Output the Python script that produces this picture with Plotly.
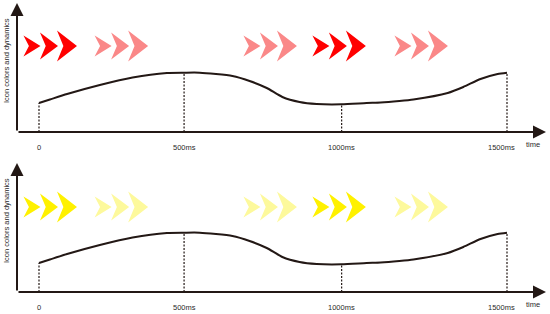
import plotly.graph_objects as go

# ---------------- data ----------------
# time positions of the curve samples (schematic time axis units)
curve_t = [0, 35, 90, 195, 300, 410, 465, 515, 620, 675, 730, 780, 835, 890,
           970, 1050, 1095, 1155, 1200, 1310, 1360, 1415, 1470, 1500]
# icon dynamics level
curve_v = [29, 32.5, 38, 47, 54.5, 59, 59.3, 59.3, 56, 51, 44, 35, 30, 28,
           27.7, 29, 29.5, 31, 32.5, 39, 45, 53, 58, 59.3]

tick_pos = [0, 465, 970, 1500]
tick_labels = ["0", "500ms", "1000ms", "1500ms"]

chevron_groups = [32, 260, 737, 958, 1221]
chevron_strength = ["strong", "light", "light", "strong", "light"]

panel_names = ["red", "yellow"]
palettes = {
    "red": {"strong": "#FF0000", "light": "#FA8888"},
    "yellow": {"strong": "#FFF100", "light": "#FDF99C"},
}

y_label = "Icon colors and dynamics"
x_label = "time"

# ---------------- styling ----------------
W, H = 550, 314
PX = 1500 / 468.0          # x data units per pixel
X_RANGE = [-39 * PX, (W - 39) * PX]
INK = "#231815"
TXT = "#2a2a2a"
FONT = "Liberation Sans, Arial, sans-serif"

chev_off_px = [-17, 0, 18]
chev_w_px = [17, 18, 20]
chev_h_px = [21, 27, 31]
notch = 0.32

panels = [
    {"xa": "x", "ya": "y", "dom": [1 - 160 / H, 1], "rng": [-28, 132], "cy": 86},
    {"xa": "x2", "ya": "y2", "dom": [0, 154 / H], "rng": [-22, 132], "cy": 85},
]

fig = go.Figure()
annotations = []

lookup = dict(zip(curve_t, curve_v))
axis_x = -22 * PX

for p, name in zip(panels, panel_names):
    xa, ya = p["xa"], p["ya"]
    # chevrons
    for gc, st in zip(chevron_groups, chevron_strength):
        col = palettes[name][st]
        for off, w, h in zip(chev_off_px, chev_w_px, chev_h_px):
            cx = gc + off * PX
            cy = p["cy"]
            xs = [cx - w / 2 * PX, cx + w / 2 * PX, cx - w / 2 * PX,
                  cx + (-w / 2 + notch * w) * PX, cx - w / 2 * PX]
            ys = [cy + h / 2, cy, cy - h / 2, cy, cy + h / 2]
            fig.add_trace(go.Scatter(x=xs, y=ys, mode="lines", fill="toself",
                                     fillcolor=col, line=dict(width=0, color=col),
                                     xaxis=xa, yaxis=ya, hoverinfo="skip",
                                     showlegend=False))
    # dashed verticals
    for t in tick_pos:
        fig.add_trace(go.Scatter(x=[t, t], y=[0, lookup[t]], mode="lines",
                                 line=dict(color=INK, width=1.2, dash="2px,1.5px"),
                                 xaxis=xa, yaxis=ya, hoverinfo="skip",
                                 showlegend=False))
    # curve
    fig.add_trace(go.Scatter(x=curve_t, y=curve_v, mode="lines",
                             line=dict(color=INK, width=2, shape="spline", smoothing=0.6),
                             xaxis=xa, yaxis=ya, hoverinfo="skip", showlegend=False))
    # axes arrows
    annotations.append(dict(x=(546 - 39) * PX, y=0, ax=axis_x, ay=0, xref=xa, yref=ya,
                            axref=xa, ayref=ya, text="", showarrow=True,
                            arrowhead=2, arrowsize=1.3, arrowwidth=2, arrowcolor=INK))
    annotations.append(dict(x=axis_x, y=129, ax=axis_x, ay=0, xref=xa, yref=ya,
                            axref=xa, ayref=ya, text="", showarrow=True,
                            arrowhead=2, arrowsize=1.3, arrowwidth=2, arrowcolor=INK))
    # tick labels
    for i, (t, lab) in enumerate(zip(tick_pos, tick_labels)):
        annotations.append(dict(x=t, y=-15, xref=xa, yref=ya, text=lab, showarrow=False,
                                xshift=-6 if i == len(tick_pos) - 1 else 0,
                                font=dict(family=FONT, size=7.5, color=TXT)))
    annotations.append(dict(x=(533 - 39) * PX, y=-12, xref=xa, yref=ya, text=x_label,
                            showarrow=False,
                            font=dict(family=FONT, size=7.5, color=TXT)))
    annotations.append(dict(x=-33 * PX, y=71, xref=xa, yref=ya, text=y_label,
                            showarrow=False, textangle=-90,
                            font=dict(family=FONT, size=7.5, color=TXT)))

ax_common = dict(visible=False, showgrid=False, zeroline=False, fixedrange=True)
fig.update_layout(
    width=W, height=H,
    margin=dict(l=0, r=0, t=0, b=0),
    paper_bgcolor="white", plot_bgcolor="white",
    showlegend=False,
    xaxis=dict(domain=[0, 1], range=X_RANGE, anchor="y", **ax_common),
    yaxis=dict(domain=panels[0]["dom"], range=panels[0]["rng"], anchor="x", **ax_common),
    xaxis2=dict(domain=[0, 1], range=X_RANGE, anchor="y2", **ax_common),
    yaxis2=dict(domain=panels[1]["dom"], range=panels[1]["rng"], anchor="x2", **ax_common),
    annotations=annotations,
)

fig.write_html("out.html", config={"displayModeBar": False},
               post_script="document.body.style.margin='0';document.body.style.overflow='hidden';")
